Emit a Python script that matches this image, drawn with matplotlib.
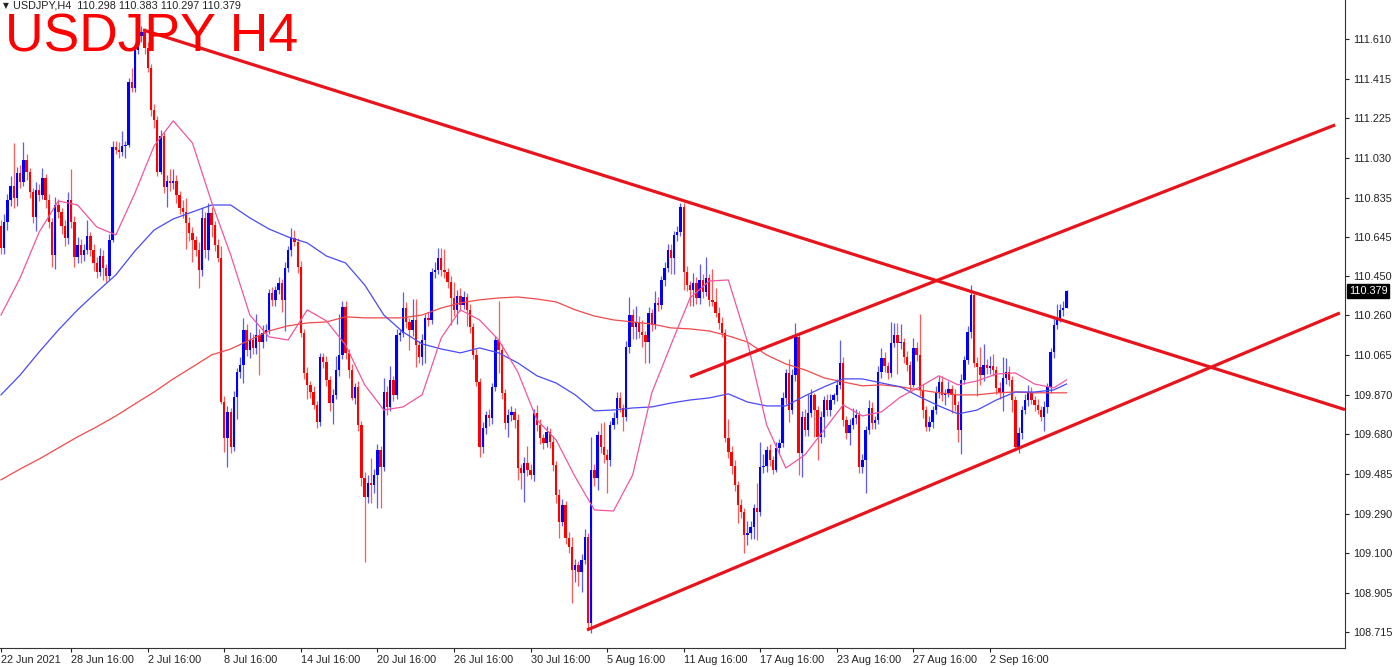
import matplotlib
matplotlib.use('Agg')
import matplotlib.pyplot as plt
import matplotlib.transforms as mtransforms
import numpy as np

# ---------------- data (USDJPY H4) ----------------
first_open = 110.697
closes = [
110.590, 110.717, 110.824, 110.892, 110.834, 110.956, 110.912, 111.019, 110.961, 110.863,
110.741, 110.873, 110.848, 110.931, 110.824, 110.717, 110.555, 110.799, 110.765, 110.697,
110.638, 110.824, 110.717, 110.545, 110.604, 110.555, 110.580, 110.648, 110.580, 110.516,
110.472, 110.550, 110.492, 110.453, 110.629, 111.083, 111.068, 111.058, 111.088, 111.092,
111.400, 111.371, 111.556, 111.625, 111.644, 111.566, 111.468, 111.263, 111.214, 110.961,
111.136, 110.887, 110.917, 110.907, 110.917, 110.848, 110.785, 110.765, 110.712, 110.663,
110.629, 110.580, 110.482, 110.736, 110.580, 110.760, 110.702, 110.604, 110.541, 109.837,
109.662, 109.789, 109.618, 109.862, 109.984, 110.018, 110.189, 110.091, 110.140, 110.101,
110.165, 110.130, 110.174, 110.189, 110.370, 110.336, 110.384, 110.419, 110.336, 110.492,
110.580, 110.638, 110.619, 110.497, 110.174, 109.979, 109.921, 109.886, 109.823, 109.740,
110.057, 110.033, 109.945, 109.832, 109.872, 109.994, 110.067, 110.301, 110.077, 109.994,
109.857, 109.911, 109.725, 109.466, 109.374, 109.442, 109.432, 109.481, 109.603, 109.520,
109.886, 109.813, 109.945, 109.872, 110.165, 110.174, 110.296, 110.228, 110.189, 110.238,
110.116, 110.057, 110.140, 110.248, 110.238, 110.472, 110.482, 110.541, 110.482, 110.472,
110.423, 110.345, 110.287, 110.355, 110.311, 110.350, 110.287, 110.204, 110.067, 109.935,
109.618, 109.711, 109.774, 109.760, 109.911, 110.140, 110.091, 109.882, 109.735, 109.774,
109.789, 109.750, 109.515, 109.491, 109.540, 109.506, 109.481, 109.784, 109.725, 109.662,
109.637, 109.691, 109.642, 109.530, 109.383, 109.252, 109.335, 109.174, 109.129, 109.017,
109.042, 109.007, 109.066, 109.178, 108.758, 109.506, 109.466, 109.676, 109.618, 109.579,
109.554, 109.725, 109.760, 109.857, 109.808, 109.764, 110.106, 110.262, 110.204, 110.228,
110.179, 110.165, 110.130, 110.272, 110.214, 110.321, 110.311, 110.433, 110.492, 110.580,
110.541, 110.653, 110.668, 110.790, 110.472, 110.409, 110.384, 110.419, 110.345, 110.433,
110.374, 110.443, 110.336, 110.326, 110.272, 110.223, 110.174, 109.662, 109.593, 109.525,
109.432, 109.335, 109.301, 109.188, 109.198, 109.227, 109.320, 109.301, 109.520, 109.525,
109.603, 109.554, 109.506, 109.613, 109.637, 109.857, 109.979, 109.798, 109.969, 110.155,
109.589, 109.764, 109.701, 109.784, 109.872, 109.798, 109.666, 109.764, 109.847, 109.798,
109.847, 109.872, 109.921, 110.028, 109.750, 109.686, 109.725, 109.760, 109.774, 109.520,
109.554, 109.701, 109.808, 109.735, 109.750, 109.984, 110.052, 110.013, 109.979, 110.126,
110.165, 110.126, 110.130, 110.057, 110.018, 109.921, 110.101, 110.067, 109.896, 109.798,
109.715, 109.740, 109.798, 109.886, 109.935, 109.872, 109.882, 109.901, 109.872, 109.823,
109.701, 109.945, 110.043, 110.179, 110.360, 110.028, 110.008, 109.969, 110.018, 110.004,
110.013, 109.994, 109.906, 109.882, 109.955, 109.984, 109.945, 109.847, 109.618, 109.686,
109.798, 109.847, 109.882, 109.847, 109.823, 109.798, 109.764, 109.813, 109.911, 110.082,
110.214, 110.248, 110.287, 110.298, 110.379]

# upper / lower wick lengths in pips (0.01)
upper_wick = [
3,4,3,5,21,3,4,9,3,2, 2,4,3,5,2,3,2,4,3,2, 3,4,15,3,4,3,3,8,2,3, 3,4,3,2,3,3,3,4,7,2,
2,7,3,3,3,2,3,2,3,2, 3,2,3,6,6,3,2,4,7,3, 3,2,4,5,3,5,3,2,3,6, 3,3,2,3,2,4,6,3,4,3,
10,3,4,3,2,3,2,3,2,3, 2,5,4,2,3,2,3,2,3,2, 2,2,3,2,3,7,20,3,3,2, 3,2,3,2,3,4,12,3,3,2,
7,3,7,2,3,2,8,3,2,10, 10,2,3,2,3,2,4,5,5,10, 2,3,8,3,4,3,2,3,2,3, 2,3,2,3,2,2,19,3,2,3,
3,2,3,2,3,8,3,2,4,3, 2,3,2,3,2,3,3,2,3,5, 3,2,3,4,2,16,3,2,6,12, 3,2,3,3,3,2,3,9,3,8,
3,6,2,3,2,6,3,2,3,3, 3,2,3,2,2,3,2,5,3,8, 3,10,2,15,7,3,3,2,9,3, 3,2,3,2,6,3,2,12,12,6,
2,3,2,3,2,3,2,7,3,7, 2,3,4,9,3,1,2,3,2,3, 3,1,3,11,3,2,3,5,3,2, 3,2,4,3,2,3,5,3,2,10,
6,6,9,2,3,2,5,3,20,3, 2,3,2,3,3,3,2,4,2,3, 2,3,2,3,5,1,3,10,10,3, 5,6,2,3,10,7,3,2,2,3,
2,3,4,3,2,3,2,3,2,2, 4,7,3,3,0.4]
lower_wick = [
3,3,4,3,5,4,3,2,4,3, 3,7,3,2,4,3,6,7,3,4, 4,3,3,5,3,4,3,2,3,4, 3,2,6,3,2,1,2,3,2,6,
1,2,2,2,3,3,2,3,4,2, 1,3,10,4,3,4,3,3,13,4, 11,3,9,3,4,5,6,3,2,1, 7,14,3,2,11,3,9,3,4,3,
3,16,3,4,2,3,3,2,6,15, 2,3,2,3,2,3,7,3,2,3, 2,3,3,4,10,2,3,2,3,4, 1,3,3,4,32,3,9,4,16,20,
2,4,2,3,2,3,2,3,10,3, 11,3,4,11,3,2,3,2,3,3, 3,13,3,7,3,2,8,3,2,2, 5,3,3,4,3,2,11,3,3,7,
3,4,6,8,14,3,2,3,3,3, 3,2,3,3,4,8,2,3,3,16, 6,7,10,2,3,5,4,6,3,4, 16,3,2,3,2,7,2,3,6,6,
3,6,10,10,3,2,3,2,3,2, 8,8,3,2,9,3,8,8,3,3, 3,2,3,2,2,3,2,2,3,4, 3,9,3,9,5,3,6,14,2,3,
3,3,2,1,3,2,3,6,2,3, 11,12,3,3,2,13,11,3,10,3, 3,2,3,2,3,3,6,2,3,3, 3,16,2,3,3,2,3,3,3,2,
2,15,3,3,3,3,1,3,3,4, 2,2,3,2,3,3,5,2,9,3, 6,12,2,2,3,2,14,5,3,3, 3,3,3,3,9,3,3,6,2,3,
3,2,3,2,3,2,2,7,3,3, 3,2,2,3,0.1]

# moving averages sampled every 6 bars (last sample at the final bar)
ma_bars = [0, 6, 12, 18, 24, 30, 36, 42, 48, 54, 60, 66, 72, 78, 84, 90, 96, 102, 108,
           114, 120, 126, 132, 138, 144, 150, 156, 162, 168, 174, 180, 186, 192, 198, 204,
           210, 216, 222, 228, 234, 240, 246, 252, 258, 264, 270, 276, 282, 288, 294, 300,
           306, 312, 318, 324, 330, 334]
ma_fast = [110.262, 110.443, 110.668, 110.819, 110.799, 110.692, 110.653, 110.858, 111.088,
           111.210, 111.102, 110.814, 110.555, 110.262, 110.155, 110.140, 110.287, 110.233,
           110.116, 109.921, 109.798, 109.813, 109.872, 110.150, 110.287, 110.238, 110.140,
           109.984, 109.750, 109.652, 109.471, 109.310, 109.305, 109.481, 109.882, 110.116,
           110.345, 110.428, 110.433, 110.130, 109.725, 109.515, 109.579, 109.701, 109.823,
           109.769, 109.789, 109.862, 109.911, 109.965, 109.921, 109.940, 109.974, 109.979,
           109.925, 109.906, 109.945]
ma_mid = [109.872, 109.969, 110.082, 110.189, 110.287, 110.374, 110.458, 110.575, 110.677,
          110.731, 110.765, 110.799, 110.799, 110.736, 110.682, 110.643, 110.614, 110.550,
          110.516, 110.409, 110.262, 110.179, 110.121, 110.096, 110.077, 110.101, 110.077,
          110.028, 109.965, 109.930, 109.872, 109.794, 109.798, 109.808, 109.813, 109.832,
          109.847, 109.857, 109.877, 109.837, 109.818, 109.818, 109.867, 109.911, 109.950,
          109.950, 109.930, 109.911, 109.862, 109.818, 109.779, 109.798, 109.847, 109.886,
          109.886, 109.896, 109.925]
ma_slow = [109.457, 109.510, 109.559, 109.613, 109.667, 109.716, 109.769, 109.828, 109.886,
           109.950, 110.008, 110.067, 110.096, 110.140, 110.184, 110.209, 110.223, 110.228,
           110.253, 110.248, 110.248, 110.248, 110.262, 110.296, 110.321, 110.336, 110.345,
           110.350, 110.340, 110.326, 110.287, 110.257, 110.238, 110.228, 110.218, 110.199,
           110.194, 110.184, 110.160, 110.130, 110.067, 110.023, 109.994, 109.955, 109.935,
           109.916, 109.921, 109.911, 109.896, 109.882, 109.872, 109.872, 109.882, 109.886,
           109.882, 109.882, 109.882]

# trend lines: (bar, price) end points
trend_down = ([44.5, 421.3], [111.654, 109.800])
trend_support = ([183.7, 419.7], [108.724, 110.272])
trend_channel = ([216.0, 418.2], [109.960, 111.190])

price_ticks = [111.610, 111.415, 111.225, 111.030, 110.835, 110.645, 110.450, 110.260,
               110.065, 109.870, 109.680, 109.485, 109.290, 109.100, 108.905, 108.715]
time_tick_bars = [0, 22, 46, 70, 94, 118, 142, 166, 190, 214, 238, 262, 286, 310]
time_tick_labels = ["22 Jun 2021", "28 Jun 16:00", "2 Jul 16:00", "8 Jul 16:00",
                    "14 Jul 16:00", "20 Jul 16:00", "26 Jul 16:00", "30 Jul 16:00",
                    "5 Aug 16:00", "11 Aug 16:00", "17 Aug 16:00", "23 Aug 16:00",
                    "27 Aug 16:00", "2 Sep 16:00"]
header = "USDJPY,H4  110.298 110.383 110.297 110.379"
last_price = 110.379

# ---------------- drawing ----------------
plt.rcParams['font.family'] = ['Liberation Sans', 'DejaVu Sans']
W, H = 1395, 667
fig = plt.figure(figsize=(W / 100, H / 100), dpi=100)
fig.patch.set_facecolor('white')
ax = fig.add_axes([0, 19 / H, 1345 / W, 648 / H])
ax.set_facecolor('white')

c = np.array(closes)
o = np.r_[first_open, c[:-1]]
n = len(c)
xb = np.arange(n)
hi = np.maximum(o, c) + np.array(upper_wick) * 0.01
lo = np.minimum(o, c) - np.array(lower_wick) * 0.01
bull = c >= o
cols = np.where(bull, '#0000FF', '#FF0000')
wick_cols = np.where(bull, '#5A5AFF', '#FF5A5A')

ax.vlines(xb, lo, hi, colors=wick_cols, linewidth=0.9, zorder=2)
body = np.maximum(np.abs(c - o), 0.005)
ax.bar(xb, body, bottom=np.minimum(o, c), width=0.74, color=cols, linewidth=0, zorder=3)

ax.plot(ma_bars, ma_slow, color='#F04A4A', lw=0.9, zorder=4)
ax.plot(ma_bars, ma_mid, color='#4A4AF5', lw=0.9, zorder=4)
ax.plot(ma_bars, ma_fast, color='#F2559E', lw=0.9, zorder=4)

for tx, ty in (trend_down, trend_support, trend_channel):
    ax.plot(tx, ty, color='#E8141B', lw=2.3, solid_capstyle='butt', zorder=5)

ax.set_xlim(-0.313, 421.3)
ax.set_ylim(108.636, 111.800)

for s in ('left', 'top'):
    ax.spines[s].set_visible(False)
for s in ('right', 'bottom'):
    ax.spines[s].set_color('#333333')
    ax.spines[s].set_linewidth(0.8)

ax.yaxis.tick_right()
ax.set_yticks(price_ticks)
ax.set_yticklabels([f"{v:.3f}" for v in price_ticks])
ax.tick_params(axis='y', direction='out', length=3, width=0.8, pad=3,
               labelsize=7.8, colors='#222222')
ax.set_xticks(time_tick_bars)
ax.set_xticklabels(time_tick_labels, ha='left')
ax.tick_params(axis='x', direction='out', length=3, width=0.8, pad=2,
               labelsize=7.8, colors='#222222')
for lab in ax.get_xticklabels():
    lab.set_horizontalalignment('left')

trans = mtransforms.blended_transform_factory(ax.transAxes, ax.transData)
ax.text(1.0 + 4 / 1345, last_price, f"{last_price:.3f}", transform=trans,
        ha='left', va='center', color='white', fontsize=7.8,
        bbox=dict(boxstyle='square,pad=0.15', facecolor='black', edgecolor='black'),
        zorder=10, clip_on=False)

fig.text(3 / W, 1 - 6 / H, "\u25BC", fontsize=5.5, color='#222222', va='center',
         ha='left', family=['DejaVu Sans'])
fig.text(13 / W, 1 - 6 / H, header, fontsize=7.8, color='#222222', va='center', ha='left')
fig.text(5 / W, 1 - 51 / H, "USDJPY H4", fontsize=38.5, color='#FF0000',
         va='baseline', ha='left', zorder=20)

fig.savefig('out.png', dpi=100, facecolor='white')
